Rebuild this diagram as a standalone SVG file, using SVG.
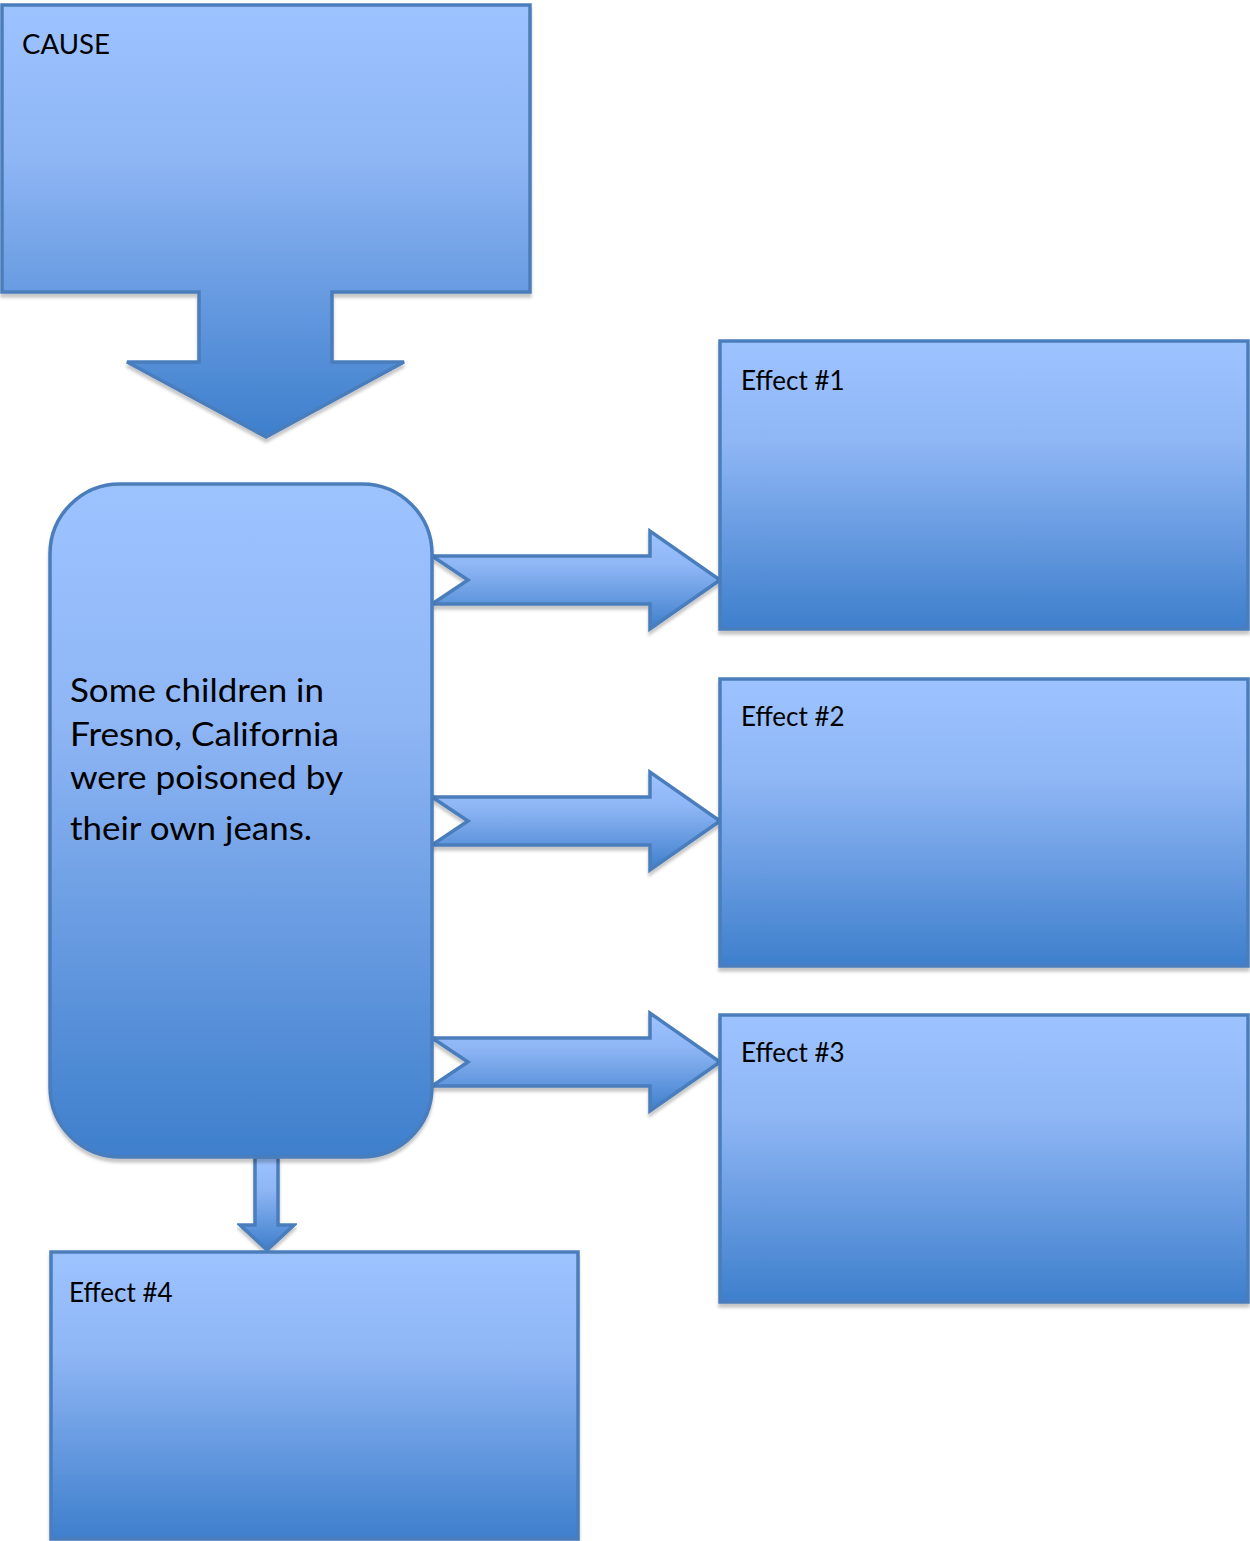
<svg xmlns="http://www.w3.org/2000/svg" width="1250" height="1541" viewBox="0 0 1250 1541">
  <defs>
    <linearGradient id="blueFill" x1="0" y1="0" x2="0" y2="1">
      <stop offset="0" stop-color="#9dc3ff"/>
      <stop offset="0.35" stop-color="#8fb6f5"/>
      <stop offset="1" stop-color="#3e7fcc"/>
    </linearGradient>
    <filter id="shade" x="-5%" y="-5%" width="110%" height="115%">
      <feDropShadow dx="0" dy="4" stdDeviation="1.5" flood-color="#000" flood-opacity="0.22"/>
    </filter>
  </defs>
  <style>
    .shape { fill: url(#blueFill); stroke: #4a7dbb; stroke-width: 3.5; stroke-linejoin: miter; filter: url(#shade); }
    .label { font-family: "Lato", "Noto Sans", "Liberation Sans", sans-serif; fill: #000; }
    .small { font-size: 26px; }
    .big { font-size: 33px; }
  </style>

  <rect width="1250" height="1541" fill="#ffffff"/>

  <!-- connectors -->
  <g id="connectors">
    <path class="shape" d="M432,556 H650 V531 L720,580 L650,629 V604 H432 L468,580 Z"/>
    <path class="shape" d="M432,797 H650 V772 L720,821 L650,870 V845 H432 L468,821 Z"/>
    <path class="shape" d="M432,1038 H650 V1013 L720,1062 L650,1111 V1086 H432 L468,1062 Z"/>
    <path class="shape" d="M255,1157 H278 V1225 H294 L267,1250 L240,1225 H255 Z"/>
  </g>

  <!-- cause box with downward arrow -->
  <g id="cause">
    <path class="shape" d="M2,5 H530 V292 H332 V362 H404 L266,437 L127,362 H199 V292 H2 Z"/>
    <text class="label small" x="22" y="54" textLength="88" lengthAdjust="spacingAndGlyphs">CAUSE</text>
  </g>

  <!-- central event -->
  <g id="event">
    <rect class="shape" x="50" y="484" width="382" height="673" rx="70" ry="70"/>
    <text class="label big" x="70" y="702" textLength="254" lengthAdjust="spacingAndGlyphs">Some children in</text>
    <text class="label big" x="70" y="746" textLength="269" lengthAdjust="spacingAndGlyphs">Fresno, California</text>
    <text class="label big" x="70" y="789" textLength="273" lengthAdjust="spacingAndGlyphs">were poisoned by</text>
    <text class="label big" x="70" y="840" textLength="242" lengthAdjust="spacingAndGlyphs">their own jeans.</text>
  </g>

  <g id="effect1">
    <rect class="shape" x="720" y="341" width="528" height="288"/>
    <text class="label small" x="741" y="390">Effect #1</text>
  </g>
  <g id="effect2">
    <rect class="shape" x="720" y="679" width="528" height="287"/>
    <text class="label small" x="741" y="726">Effect #2</text>
  </g>
  <g id="effect3">
    <rect class="shape" x="720" y="1015" width="528" height="287"/>
    <text class="label small" x="741" y="1062">Effect #3</text>
  </g>
  <g id="effect4">
    <rect class="shape" x="51" y="1252" width="527" height="287"/>
    <text class="label small" x="69" y="1302">Effect #4</text>
  </g>
</svg>
